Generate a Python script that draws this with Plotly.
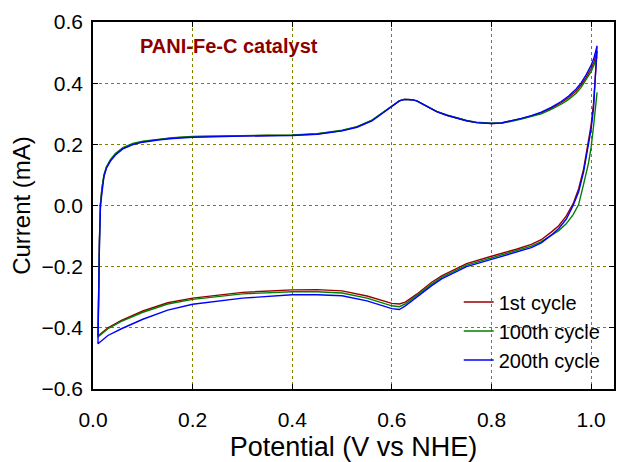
import plotly.graph_objects as go

# Anodic sweep (0.01 V -> 1.012 V), shared potential grid
v_anodic = [0.011, 0.013, 0.015, 0.018, 0.022, 0.027, 0.035, 0.045, 0.06, 0.08,
            0.1, 0.13, 0.16, 0.2, 0.25, 0.3, 0.35, 0.4, 0.45, 0.5,
            0.53, 0.56, 0.58, 0.6, 0.615, 0.625, 0.64, 0.65, 0.67, 0.69,
            0.71, 0.73, 0.75, 0.77, 0.8, 0.82, 0.84, 0.86, 0.88, 0.9,
            0.92, 0.94, 0.955, 0.97, 0.98, 0.99, 1.0, 1.006, 1.012]

i_anodic_1st = [-0.29, -0.11, 0.005, 0.056, 0.098, 0.125, 0.148, 0.168, 0.187, 0.201,
                0.209, 0.216, 0.221, 0.225, 0.227, 0.228, 0.229, 0.230, 0.234, 0.245,
                0.257, 0.278, 0.301, 0.326, 0.342, 0.347, 0.346, 0.342, 0.324, 0.307,
                0.295, 0.285, 0.277, 0.271, 0.268, 0.270, 0.276, 0.284, 0.293, 0.303,
                0.318, 0.336, 0.353, 0.374, 0.394, 0.418, 0.447, 0.47, 0.505]

i_anodic_100th = [-0.29, -0.11, 0.006, 0.058, 0.100, 0.127, 0.150, 0.170, 0.189, 0.203,
                  0.210, 0.217, 0.222, 0.226, 0.228, 0.229, 0.230, 0.231, 0.235, 0.246,
                  0.258, 0.279, 0.302, 0.326, 0.342, 0.347, 0.346, 0.342, 0.325, 0.308,
                  0.296, 0.286, 0.278, 0.272, 0.269, 0.270, 0.275, 0.283, 0.291, 0.300,
                  0.314, 0.331, 0.347, 0.367, 0.386, 0.410, 0.438, 0.46, 0.486]

i_anodic_200th = [-0.31, -0.12, 0.0, 0.052, 0.095, 0.122, 0.145, 0.165, 0.185, 0.199,
                  0.207, 0.214, 0.219, 0.223, 0.226, 0.227, 0.228, 0.229, 0.233, 0.244,
                  0.256, 0.277, 0.300, 0.325, 0.342, 0.347, 0.346, 0.342, 0.324, 0.307,
                  0.295, 0.285, 0.277, 0.271, 0.268, 0.270, 0.277, 0.285, 0.294, 0.305,
                  0.321, 0.340, 0.358, 0.381, 0.401, 0.427, 0.458, 0.484, 0.522]

# Cathodic sweep (1.012 V -> 0.01 V), shared potential grid
v_cathodic = [1.012, 1.009, 1.005, 1.0, 0.995, 0.985, 0.975, 0.964, 0.95, 0.935,
              0.92, 0.9, 0.88, 0.85, 0.8, 0.75, 0.7, 0.68, 0.65, 0.627,
              0.615, 0.6, 0.55, 0.5, 0.45, 0.4, 0.3, 0.2, 0.15, 0.123,
              0.1, 0.057, 0.03, 0.01]

i_cathodic_1st = [0.505, 0.43, 0.335, 0.262, 0.21, 0.12, 0.055, 0.006, -0.035, -0.066,
                  -0.087, -0.112, -0.127, -0.143, -0.166, -0.19, -0.23, -0.251, -0.29, -0.316,
                  -0.322, -0.32, -0.296, -0.279, -0.275, -0.276, -0.284, -0.303, -0.318, -0.332,
                  -0.345, -0.376, -0.4, -0.427]

i_cathodic_100th = [0.37, 0.33, 0.26, 0.19, 0.14, 0.07, 0.003, -0.03, -0.06, -0.082,
                    -0.098, -0.118, -0.133, -0.148, -0.171, -0.195, -0.235, -0.257, -0.295, -0.322,
                    -0.331, -0.328, -0.303, -0.286, -0.282, -0.282, -0.289, -0.307, -0.322, -0.336,
                    -0.349, -0.379, -0.403, -0.43]

i_cathodic_200th = [0.522, 0.42, 0.32, 0.25, 0.2, 0.11, 0.045, 0.0, -0.045, -0.075,
                    -0.097, -0.122, -0.138, -0.153, -0.176, -0.2, -0.24, -0.262, -0.3, -0.328,
                    -0.34, -0.337, -0.312, -0.295, -0.292, -0.292, -0.303, -0.323, -0.342, -0.358,
                    -0.372, -0.403, -0.425, -0.452]

series = [
    ("1st cycle", i_anodic_1st, i_cathodic_1st, "#990000"),
    ("100th cycle", i_anodic_100th, i_cathodic_100th, "#008000"),
    ("200th cycle", i_anodic_200th, i_cathodic_200th, "#0000ff"),
]

fig = go.Figure()
for name, ia, ic, color in series:
    # close the loop: cathodic sweep first, then the anodic return
    x = v_cathodic + v_anodic
    y = ic + ia
    fig.add_trace(go.Scatter(x=x, y=y, mode="lines", name=name,
                             line=dict(color=color, width=1.4)))

font_family = "Liberation Sans, Arial, sans-serif"

fig.update_layout(
    width=620, height=462,
    margin=dict(l=93, r=4, t=22, b=71),
    paper_bgcolor="white", plot_bgcolor="white",
    font=dict(family=font_family, color="black", size=21),
    showlegend=True,
    legend=dict(x=0.702, y=0.29, xanchor="left", yanchor="top",
                bgcolor="rgba(0,0,0,0)", font=dict(size=20),
                tracegroupgap=0),
    annotations=[dict(x=0.09, y=0.52, xref="x", yref="y", xanchor="left", yanchor="middle",
                      text="<b>PANI-Fe-C catalyst</b>", showarrow=False,
                      font=dict(size=20, color="#8b0000", family=font_family))],
)

axis_common = dict(
    showline=True, linecolor="black", linewidth=1.5, mirror="ticks",
    ticks="inside", ticklen=5, tickcolor="black", tickwidth=1,
    showgrid=True, gridcolor="#808000", griddash="dot", gridwidth=1,
    zeroline=False, tickformat=".1f", dtick=0.2,
    tickfont=dict(size=21),
)

fig.update_xaxes(range=[0, 1.046], tick0=0, ticklabelstandoff=11,
                 title=dict(text="Potential (V vs NHE)", font=dict(size=27), standoff=8),
                 **axis_common)
fig.update_yaxes(range=[-0.6, 0.6], tick0=-0.6, ticklabelstandoff=4,
                 title=dict(text="Current (mA)", font=dict(size=24), standoff=4),
                 **axis_common)

fig.write_html("out.html")
